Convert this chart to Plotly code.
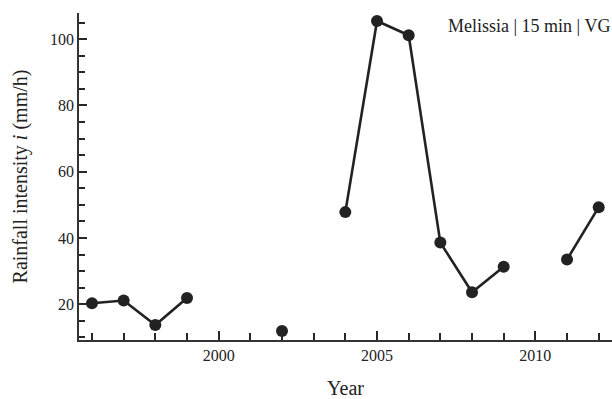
import plotly.graph_objects as go

years = list(range(1996, 2013))
intensity = [20.3, 21.1, 13.7, 21.9, None, None, 11.9, None, 47.8, 105.5, 101.2, 38.6, 23.6, 31.3, None, 33.5, 49.3]
x_ticks = [2000, 2005, 2010]
y_ticks = [20, 40, 60, 80, 100]

FONT = "Liberation Serif"
INK = "#222222"
TICK = "rgb(40,40,40)"

fig = go.Figure()
fig.add_trace(go.Scatter(
    x=years, y=intensity, mode="lines+markers", connectgaps=False,
    line=dict(color=INK, width=2.6),
    marker=dict(color=INK, size=12),
    showlegend=False,
))

fig.update_layout(
    width=612, height=399,
    margin=dict(l=79, r=0, t=13, b=59, autoexpand=False),
    paper_bgcolor="white", plot_bgcolor="white",
    font=dict(family=FONT, color=INK, size=16),
    xaxis=dict(
        range=[1995.59, 2012.42], tickmode="linear", tick0=x_ticks[0], dtick=x_ticks[1] - x_ticks[0],
        ticks="inside", ticklen=9, tickwidth=2,
        tickcolor=TICK, showgrid=False, zeroline=False, showline=True, linecolor="#333", linewidth=1.6,
        minor=dict(dtick=1, ticks="inside", ticklen=7, tickwidth=2, tickcolor=TICK),
        title=dict(text="Year", font=dict(size=20, family=FONT, color=INK), standoff=19),
        tickfont=dict(size=16, family=FONT, color=INK),
    ),
    yaxis=dict(
        range=[9.2, 107.9], tickmode="linear", tick0=y_ticks[0], dtick=y_ticks[1] - y_ticks[0],
        ticks="inside", ticklen=8, tickwidth=2,
        tickcolor=TICK, showgrid=False, zeroline=False, showline=True, linecolor="#333", linewidth=1.6,
        minor=dict(dtick=5, ticks="inside", ticklen=6, tickwidth=2, tickcolor=TICK),
        title=dict(text="Rainfall intensity <i>i</i> (mm/h)", font=dict(size=20, family=FONT, color=INK), standoff=17),
        tickfont=dict(size=16, family=FONT, color=INK),
    ),
    annotations=[dict(
        text="Melissia | 15 min | VG", xref="paper", yref="paper", x=1.0, y=1.0,
        xanchor="right", yanchor="top", showarrow=False, yshift=-1, xshift=0,
        font=dict(size=18, family=FONT, color=INK),
    )],
)

fig.write_html("out.html", config={"displayModeBar": False})

with open("out.html", "r", encoding="utf-8") as f:
    html = f.read()
html = html.replace("<head>", "<head><style>html,body{margin:0;padding:0;overflow:hidden;}</style>", 1)
with open("out.html", "w", encoding="utf-8") as f:
    f.write(html)
